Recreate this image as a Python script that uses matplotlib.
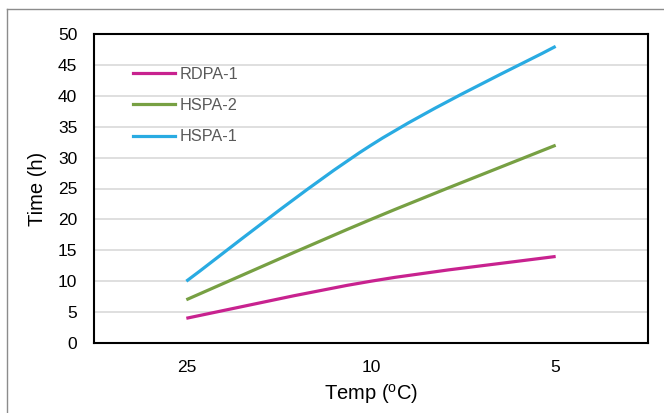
import matplotlib
matplotlib.use("Agg")
import matplotlib.pyplot as plt
from matplotlib.path import Path
from matplotlib.patches import PathPatch
from matplotlib.lines import Line2D
import numpy as np

plt.rcParams['font.family'] = ['Liberation Sans', 'DejaVu Sans']

categories = ["25", "10", "5"]
series_names = ["RDPA-1", "HSPA-2", "HSPA-1"]
rdpa1 = [4, 10, 14]
hspa2 = [7, 20, 32]
hspa1 = [10, 32, 48]
colors = ["#C8228F", "#77A043", "#29ABE2"]
yticks = [0, 5, 10, 15, 20, 25, 30, 35, 40, 45, 50]

W, H = 664, 413
fig = plt.figure(figsize=(W / 100, H / 100), dpi=100)
ax = fig.add_axes([94 / W, 1 - 343 / H, (648 - 94) / W, (343 - 34) / H])


def smooth_path(xs, ys):
    pts = np.column_stack([xs, ys]).astype(float)
    n = len(pts)
    verts = [pts[0]]
    codes = [Path.MOVETO]
    for i in range(n - 1):
        p0 = pts[i - 1] if i > 0 else pts[i]
        p1 = pts[i]
        p2 = pts[i + 1]
        p3 = pts[i + 2] if i + 2 < n else pts[i + 1]
        c1 = p1 + (p2 - p0) / 6.0
        c2 = p2 - (p3 - p1) / 6.0
        verts += [c1, c2, p2]
        codes += [Path.CURVE4] * 3
    return Path(verts, codes)


x = np.arange(len(categories))
handles = []
for name, vals, col in zip(series_names, [rdpa1, hspa2, hspa1], colors):
    patch = PathPatch(smooth_path(x, vals), fill=False, edgecolor=col,
                      linewidth=2.3, capstyle='butt', joinstyle='round', zorder=3)
    ax.add_patch(patch)
    handles.append(Line2D([], [], color=col, linewidth=2.3, label=name))

ax.set_xlim(-0.5, 2.5)
ax.set_ylim(0, 50)
ax.set_xticks(x)
ax.set_xticklabels(categories)
ax.set_yticks(yticks)
ax.tick_params(length=0, labelsize=12.5, colors='black')
ax.tick_params(axis='y', pad=12)
ax.tick_params(axis='x', pad=12)
ax.yaxis.grid(True, color='#D9D9D9', linewidth=1.2)
ax.set_axisbelow(True)
for s in ax.spines.values():
    s.set_color('black')
    s.set_linewidth(1.5)

ax.set_ylabel("Time (h)", fontsize=14.5, labelpad=8)
ax.set_xlabel("Temp ($\\mathregular{^o}$C)", fontsize=14.5, labelpad=5)

leg = ax.legend(handles=handles, loc='upper left', bbox_to_anchor=(0.059, 0.915),
                frameon=False, fontsize=11.7, handlelength=2.58, handletextpad=0.27,
                labelspacing=1.0, borderaxespad=0)
for t in leg.get_texts():
    t.set_color('#595959')

# outer chart border (top and left visible)
fig.add_artist(Line2D([7 / W, 1.0], [1 - 9 / H, 1 - 9 / H], transform=fig.transFigure,
                      color='#8C8C8C', linewidth=1.0))
fig.add_artist(Line2D([7 / W, 7 / W], [0, 1 - 9 / H], transform=fig.transFigure,
                      color='#8C8C8C', linewidth=1.0))

fig.savefig("out.png", dpi=100)
